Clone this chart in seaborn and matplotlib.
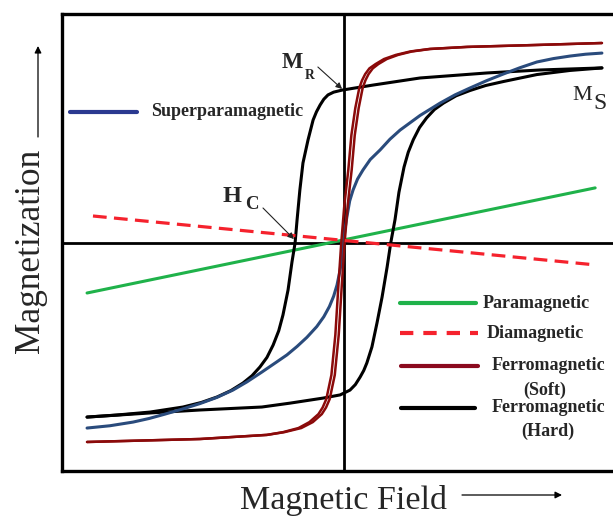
import numpy as np
import pandas as pd
import matplotlib
matplotlib.use("Agg")
import matplotlib.pyplot as plt
import seaborn as sns

# ---------------- data (arbitrary units, H and M in -100..100) ----------------
para_H = [-91.1, 89.4]
para_M = [-22.1, 23.9]

dia_H = [-89.0, 89.4]
dia_M = [11.6, -9.8]

super_H = [-91.1, -83.0, -74.8, -69.0, -63.4, -57.0, -51.0, -45.0, -39.3, -34.3, -29.0, -24.0,
           -20.1, -16.5, -13.0, -9.5, -7.0, -5.0, -3.5, -2.3, -1.2, -0.5, 0.0,
           0.5, 1.2, 2.2, 3.4, 5.0, 6.9, 9.5, 13.0, 16.5, 20.1, 27.2, 34.3, 39.6, 44.9,
           50.8, 56.7, 62.7, 68.7, 74.6, 80.5, 86.0, 91.8]
super_M = [-81.2, -80.2, -78.6, -77.0, -75.1, -72.8, -70.5, -67.8, -64.6, -61.0, -56.7, -52.5,
           -49.2, -45.5, -41.5, -36.8, -32.5, -28.0, -23.5, -18.6, -12.0, -6.0, 0.0,
           5.5, 11.2, 18.2, 23.0, 27.8, 31.7, 36.3, 40.5, 45.2, 49.2, 55.6, 61.0, 64.6, 67.6,
           70.8, 73.7, 76.5, 79.0, 80.5, 81.6, 82.4, 82.9]

soft_M = [-87.3, -86.0, -84.2, -83.0, -81.2, -78.6, -75.1, -72.2, -68.5, -58.0, -40.5, -18.6, -0.2,
          16.4, 31.7, 47.0, 58.9, 67.6, 71.0, 73.7, 76.2, 78.1, 80.3, 82.1, 83.6, 84.7, 85.6, 86.4, 87.3]
soft_up_H = [-91.1, -51.0, -27.2, -21.0, -15.0, -10.9, -7.7, -6.2, -4.9, -3.1, -1.7, -0.6, 0.4,
             1.5, 2.9, 4.0, 5.4, 6.8, 7.8, 8.9, 10.4, 12.4, 15.4, 19.4, 24.3, 30.9, 43.9, 67.3, 91.8]
soft_down_H = [-91.1, -51.0, -27.2, -21.5, -16.0, -12.1, -8.9, -7.4, -6.1, -4.3, -2.9, -1.8, -0.8,
               0.3, 1.7, 2.8, 4.2, 5.6, 6.6, 7.7, 9.2, 11.4, 14.4, 18.6, 23.7, 30.5, 43.9, 67.3, 91.8]

hard_desc_H = [-91.1, -80.5, -68.7, -57.0, -50.5, -44.9, -40.0, -35.7, -32.5, -29.7, -27.2, -25.0,
               -23.0, -21.5, -19.7, -18.3, -17.2, -16.5, -15.5, -14.4, -12.6, -10.8, -9.6, -8.3,
               -7.0, -5.5, -3.5, -0.5, 10.5, 27.2, 51.0, 69.8, 91.8]
hard_desc_M = [-76.4, -75.5, -74.2, -72.0, -70.0, -67.6, -64.8, -61.5, -58.3, -54.5, -50.3, -44.9,
               -38.6, -31.7, -20.8, -8.5, -0.2, 9.8, 23.0, 34.8, 44.9, 53.6, 57.2, 60.2,
               62.7, 64.6, 65.8, 66.7, 68.9, 72.0, 74.2, 75.5, 76.4]
hard_asc_H = [-91.1, -68.7, -51.0, -29.0, -19.0, -7.3, -1.2, 2.3, 4.2, 5.9, 7.2, 8.3, 10.1, 11.9,
              13.7, 15.5, 16.8, 18.3, 19.7, 21.5, 23.0, 24.8, 27.0, 29.5, 32.3, 35.5, 40.0, 44.9,
              50.5, 57.0, 68.7, 80.5, 91.8]
hard_asc_M = [-76.4, -74.6, -73.3, -72.0, -70.3, -68.1, -66.7, -64.6, -62.2, -58.9, -56.0, -52.7,
              -45.7, -35.2, -23.9, -10.7, 0.0, 10.0, 22.0, 33.0, 39.5, 45.0, 50.3, 54.5, 58.2, 61.0,
              64.2, 66.5, 68.7, 70.5, 73.5, 75.3, 76.4]

legend_labels = ["Superparamagnetic", "Paramagnetic", "Diamagnetic",
                 "Ferromagnetic", "(Soft)", "Ferromagnetic", "(Hard)"]

# ---------------- style ----------------
sns.set_style("white")
plt.rcParams["font.family"] = ["Liberation Serif", "DejaVu Serif"]

C_GREEN = "#1fb24a"
C_DIA = "#f5222d"
C_BLUE = "#2a4b7c"
C_BLUE_LEG = "#2b3990"
C_SOFT = "#8b0a0a"
C_SOFT_LEG = "#8b0a1e"

fig = plt.figure(figsize=(6.13, 5.20), dpi=100)
W, Hh = 613.0, 520.0
ax = fig.add_axes([62 / W, (520 - 471) / Hh, 563 / W, 457 / Hh])
ax.set_xlim(-100, 100)
ax.set_ylim(-100, 100)
ax.set_xticks([])
ax.set_yticks([])
for sp in ax.spines.values():
    sp.set_linewidth(2.4)
    sp.set_color("black")

ax.axhline(0, color="black", lw=2.0, zorder=1)
ax.axvline(0, color="black", lw=2.0, zorder=1)


def draw(H, M, color, lw, ls="-", z=3):
    df = pd.DataFrame({"H": H, "M": M})
    sns.lineplot(data=df, x="H", y="M", sort=False, estimator=None, color=color,
                 lw=lw, linestyle=ls, ax=ax, zorder=z, legend=False)


draw(para_H, para_M, C_GREEN, 2.2)
draw(super_H, super_M, C_BLUE, 2.2, z=4)
draw(hard_desc_H, hard_desc_M, "black", 2.2, z=3)
draw(hard_asc_H, hard_asc_M, "black", 2.2, z=3)
draw(soft_up_H, soft_M, C_SOFT, 1.8, z=5)
draw(soft_down_H, soft_M, C_SOFT, 1.8, z=5)
draw(dia_H, dia_M, C_DIA, 2.3, ls=(0, (4.3, 2.3)), z=6)
ax.set_xlabel("")
ax.set_ylabel("")
for ln in ax.lines:
    ln.set_solid_joinstyle("round")


# ---------------- manual legend ----------------
def fx(px):
    return (px - 62) / 563.0


def fy(py):
    return (471 - py) / 457.0


LFS = 13
leg = [
    (70, 137, 112, C_BLUE_LEG, "-"),
    (400, 476, 303, C_GREEN, "-"),
    (400, 478, 333, C_DIA, (0, (3.2, 2.4))),
    (401, 478, 366, C_SOFT_LEG, "-"),
    (401, 475, 408, "black", "-"),
]
for x0, x1, y, c, ls in leg:
    ax.plot([fx(x0), fx(x1)], [fy(y), fy(y)], transform=ax.transAxes, color=c,
            lw=3.0, linestyle=ls, solid_capstyle="round", clip_on=False, zorder=7)

ax.text(fx(151), fy(112), legend_labels[0], transform=ax.transAxes, fontsize=LFS,
        fontweight="bold", ha="left", va="center")
ax.text(fx(483), fy(303), legend_labels[1], transform=ax.transAxes, fontsize=LFS,
        fontweight="bold", ha="left", va="center")
ax.text(fx(487), fy(333), legend_labels[2], transform=ax.transAxes, fontsize=LFS,
        fontweight="bold", ha="left", va="center")
ax.text(fx(548.5), fy(366), legend_labels[3], transform=ax.transAxes, fontsize=LFS,
        fontweight="bold", ha="center", va="center")
ax.text(fx(545), fy(390), legend_labels[4], transform=ax.transAxes, fontsize=LFS,
        fontweight="bold", ha="center", va="center")
ax.text(fx(548.5), fy(408), legend_labels[5], transform=ax.transAxes, fontsize=LFS,
        fontweight="bold", ha="center", va="center")
ax.text(fx(548), fy(431), legend_labels[6], transform=ax.transAxes, fontsize=LFS,
        fontweight="bold", ha="center", va="center")

# ---------------- annotations ----------------
ax.text(-21.8, 76.4, "M", fontsize=16.3, fontweight="bold", ha="left", va="baseline")
ax.text(-13.6, 71.6, "R", fontsize=9.8, fontweight="bold", ha="left", va="baseline")
ax.text(-42.8, 17.7, "H", fontsize=17.5, fontweight="bold", ha="left", va="baseline")
ax.text(-35.0, 14.8, "C", fontsize=13.5, fontweight="bold", ha="left", va="baseline")
ax.text(81.2, 62.4, "M", fontsize=16, ha="left", va="baseline")
ax.text(88.6, 58.4, "S", fontsize=17, ha="left", va="baseline")

arrow_kw = dict(arrowstyle="-|>", color="#222222", lw=0.8, mutation_scale=9,
                shrinkA=0, shrinkB=0)
ax.annotate("", xy=(-0.5, 67.2), xytext=(-9.1, 76.8), arrowprops=arrow_kw, zorder=8)
ax.annotate("", xy=(-17.6, 1.5), xytext=(-28.6, 15.1), arrowprops=arrow_kw, zorder=8)

# ---------------- axis labels with arrows ----------------
fig.text(31 / W, (520 - 251) / Hh, "Magnetization", rotation=90, fontsize=25.5,
         ha="center", va="center")
fig.text(343 / W, (520 - 500) / Hh, "Magnetic Field", fontsize=24.5,
         ha="center", va="center")
ax_arrow = dict(arrowstyle="-|>", color="black", lw=0.9, mutation_scale=10,
                shrinkA=0, shrinkB=0)
fig.add_artist(matplotlib.patches.FancyArrowPatch(
    (38 / W, (520 - 137) / Hh), (38 / W, (520 - 46) / Hh),
    transform=fig.transFigure, **ax_arrow))
fig.add_artist(matplotlib.patches.FancyArrowPatch(
    (462 / W, (520 - 495) / Hh), (562 / W, (520 - 495) / Hh),
    transform=fig.transFigure, **ax_arrow))

fig.savefig("out.png", dpi=100, facecolor="white")
